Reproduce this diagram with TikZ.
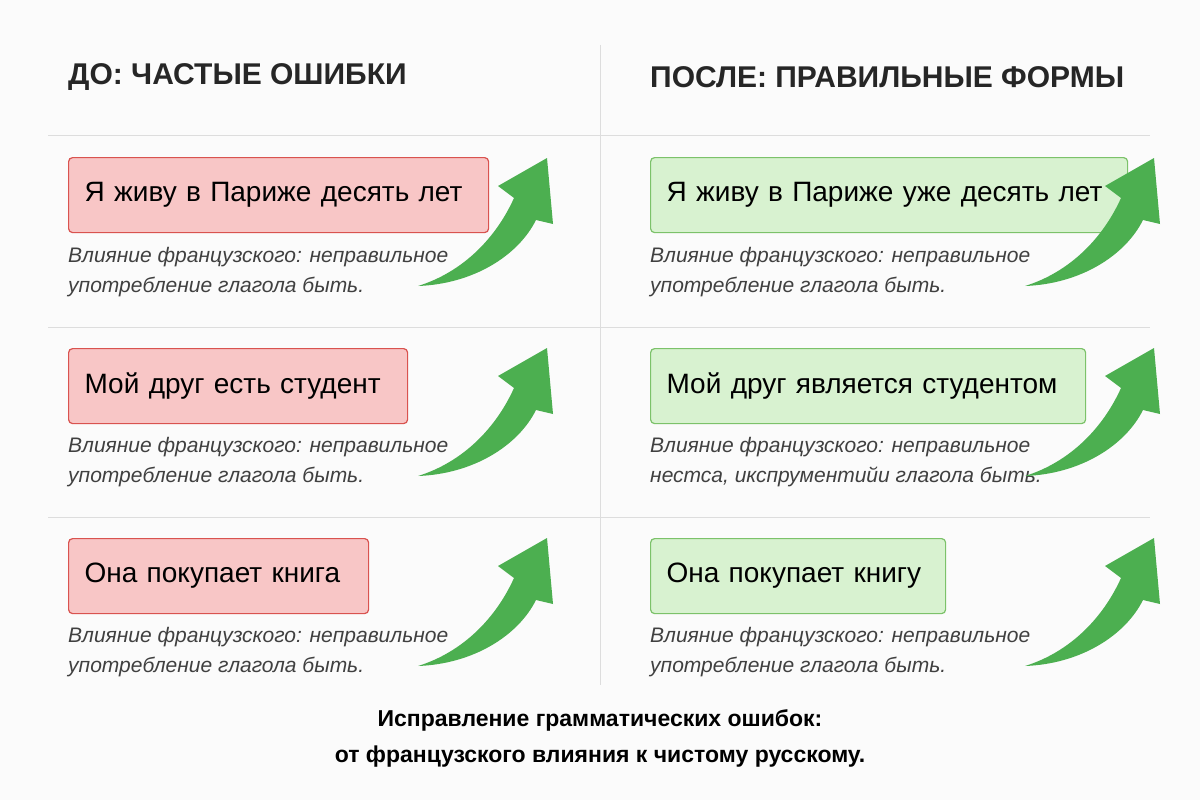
\documentclass[tikz,border=0pt]{standalone}
\usepackage{fontspec}
\setmainfont{Liberation Sans}
\definecolor{redfill}{HTML}{F8C6C6}
\definecolor{redline}{HTML}{D9534F}
\definecolor{grnfill}{HTML}{D8F2D0}
\definecolor{grnline}{HTML}{7CC26A}
\definecolor{arrowg}{HTML}{4CAF50}
\definecolor{gridc}{HTML}{DDDDDD}
\tikzset{
 boxbase/.style={rounded corners=4pt,line width=1.2pt,anchor=north west,inner xsep=16pt,inner ysep=0pt,align=left,minimum height=75pt,font=\fontsize{28}{32}\selectfont},
 bad/.style={boxbase,draw=redline,fill=redfill},
 good/.style={boxbase,draw=grnline,fill=grnfill},
 note/.style={anchor=north west,inner sep=0pt,align=left,font=\fontsize{21}{30}\selectfont\itshape,text=black!75},
 head/.style={anchor=west,inner sep=0pt,font=\fontsize{30}{34}\selectfont\bfseries,text=black!85},
}
\newcommand{\greenarrow}[2]{%
 \fill[arrowg,shift={(#1,#2)}] (0,0) .. controls (55,-2) and (100,-30) .. (118,-66)
  -- (135,-62) -- (129,-128) -- (80,-100) -- (96,-88)
  .. controls (78,-48) and (45,-14) .. cycle;}
\begin{document}
\begin{tikzpicture}[x=1pt,y=-1pt]
\fill[white!97!gray] (0,0) rectangle (1200,800);
\useasboundingbox (0,0) rectangle (1200,800);
\foreach \y in {135,327,517} \draw[gridc,line width=1pt] (48,\y) -- (1150,\y);
\draw[gridc,line width=1pt] (600,45) -- (600,685);
\node[head] (h1) at (68,77) {ДО: ЧАСТЫЕ ОШИБКИ};
\node[head] (h2) at (650,77) {ПОСЛЕ: ПРАВИЛЬНЫЕ ФОРМЫ};
\node[bad,text width=388pt] (l1) at (68,157) {Я живу в Париже десять лет};
\node[bad,text width=307pt] (l2) at (68,348) {Мой друг есть студент};
\node[bad,text width=268pt] (l3) at (68,538) {Она покупает книга};
\node[good,text width=445pt] (r1) at (650,157) {Я живу в Париже уже десять лет};
\node[good,text width=403pt] (r2) at (650,348) {Мой друг является студентом};
\node[good,text width=263pt] (r3) at (650,538) {Она покупает книгу};
\node[note] (n1) at (68,247) {Влияние французского: неправильное\\употребление глагола быть.};
\node[note] (n2) at (68,437) {Влияние французского: неправильное\\употребление глагола быть.};
\node[note] (n3) at (68,627) {Влияние французского: неправильное\\употребление глагола быть.};
\node[note] (n4) at (650,247) {Влияние французского: неправильное\\употребление глагола быть.};
\node[note] (n5) at (650,437) {Влияние французского: неправильное\\нестса, икспрументийи глагола быть.};
\node[note] (n6) at (650,627) {Влияние французского: неправильное\\употребление глагола быть.};
\greenarrow{418}{286}
\greenarrow{418}{476}
\greenarrow{418}{666}
\greenarrow{1025}{286}
\greenarrow{1025}{476}
\greenarrow{1025}{666}
\node[inner sep=0pt,align=center,font=\fontsize{23}{36}\selectfont\bfseries] (cap) at (600,738) {Исправление грамматических ошибок:\\от французского влияния к чистому русскому.};
\end{tikzpicture}
\end{document}
